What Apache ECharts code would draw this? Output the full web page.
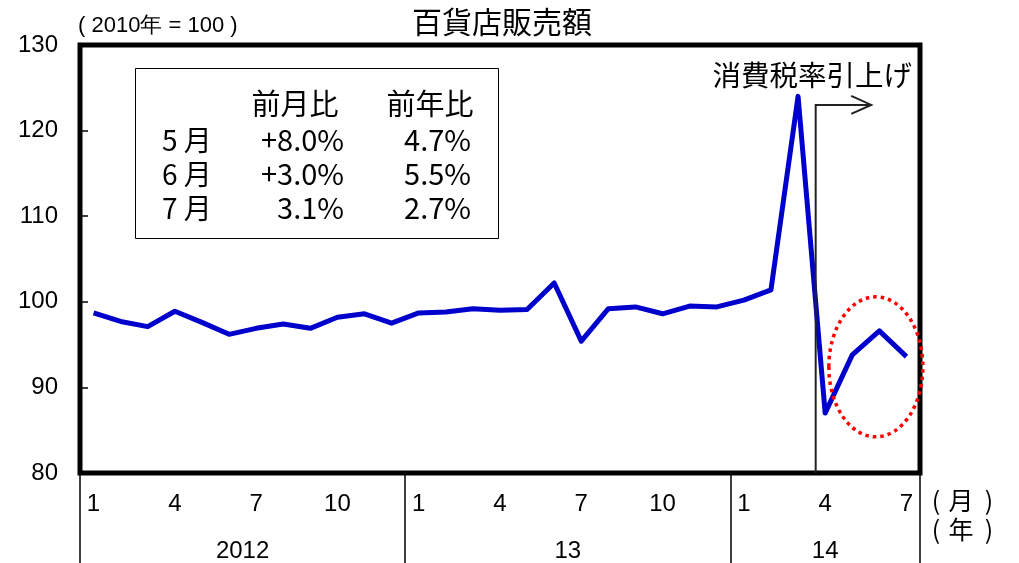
<!DOCTYPE html>
<html>
<head>
<meta charset="utf-8">
<script src="https://cdn.jsdelivr.net/npm/echarts@6/dist/echarts.min.js"></script>
<style>
html, body { margin: 0; padding: 0; background: #fff; }
#main { width: 1019px; height: 563px; }
</style>
</head>
<body>
<div id="main"></div>
<script>
// 2012-1 .. 2014-7
var months = [
    '2012-1', '2012-2', '2012-3', '2012-4', '2012-5', '2012-6', '2012-7', '2012-8', '2012-9', '2012-10', '2012-11', '2012-12',
    '2013-1', '2013-2', '2013-3', '2013-4', '2013-5', '2013-6', '2013-7', '2013-8', '2013-9', '2013-10', '2013-11', '2013-12',
    '2014-1', '2014-2', '2014-3', '2014-4', '2014-5', '2014-6', '2014-7'
];
var sales = [
    98.7, 97.7, 97.1, 98.9, 97.6, 96.2, 96.9, 97.4, 96.9, 98.2, 98.6, 97.5,
    98.7, 98.8, 99.2, 99.0, 99.1, 102.2, 95.4, 99.2, 99.4, 98.6, 99.5, 99.4,
    100.2, 101.4, 124.0, 87.0, 93.8, 96.6, 93.6
];
var monthTicks = ['1', '4', '7', '10'];
var yearLabels = ['2012', '13', '14'];
var yearMid = [6, 18, 27.5];
var yearBounds = [0, 12, 24, 31];

var tableHead = ['前月比', '前年比'];
var tableRows = ['5 月', '6 月', '7 月'];
var momValues = ['+8.0%', '+3.0%', '3.1%'];
var yoyValues = ['4.7%', '5.5%', '2.7%'];

var jp = '"Noto Sans CJK JP", sans-serif';
var num = '"Liberation Sans", Arial, sans-serif';

var chart = echarts.init(document.getElementById('main'));

var option = {
    animation: false,
    backgroundColor: '#fff',
    grid: {
        left: 80, right: 99, top: 45, bottom: 90,
        show: true,
        borderColor: '#000',
        borderWidth: 5
    },
    xAxis: [{
        type: 'category',
        data: months,
        boundaryGap: true,
        axisLine: { show: false },
        axisTick: { show: false },
        axisLabel: {
            interval: function (i, v) {
                return monthTicks.indexOf(v.split('-')[1]) >= 0;
            },
            formatter: function (v) { return v.split('-')[1]; },
            color: '#000',
            fontFamily: num,
            fontSize: 24,
            margin: 19
        }
    }, {
        type: 'value',
        min: 0,
        max: 31,
        position: 'bottom',
        axisLine: { show: false },
        splitLine: { show: false },
        axisTick: {
            show: true,
            customValues: yearBounds,
            length: 90,
            lineStyle: { color: '#000', width: 1.5 }
        },
        axisLabel: {
            customValues: yearMid,
            formatter: function (v) {
                var i = yearMid.indexOf(v);
                return i >= 0 ? yearLabels[i] : '';
            },
            color: '#000',
            fontFamily: num,
            fontSize: 24,
            margin: 66
        }
    }],
    yAxis: {
        type: 'value',
        min: 80,
        max: 130,
        interval: 10,
        axisLine: { show: false },
        splitLine: { show: false },
        axisTick: {
            show: true,
            inside: true,
            length: 8,
            lineStyle: { color: '#000', width: 1.5 }
        },
        axisLabel: {
            color: '#000',
            fontFamily: num,
            fontSize: 24,
            margin: 22
        }
    },
    series: [{
        name: '百貨店販売額',
        type: 'line',
        data: sales,
        showSymbol: false,
        symbol: 'none',
        lineStyle: { color: '#0000CC', width: 5, join: 'round' },
        z: 3
    }]
};

chart.setOption(option);

function px(x) { return chart.convertToPixel({ xAxisIndex: 1 }, x); }
function py(y) { return chart.convertToPixel({ yAxisIndex: 0 }, y); }

function txt(s, x, y, size, align, font) {
    return {
        type: 'text', x: x, y: y, z: 11,
        style: { text: s, fontFamily: font || jp, fontSize: size, fill: '#000', align: align, verticalAlign: 'middle' }
    };
}

var graphics = [];

// title and unit
graphics.push(txt('百貨店販売額', 502, 22, 30, 'center'));
graphics.push(txt('( 2010年 = 100 )', 78, 26, 22, 'left', num));

// axis unit marks
graphics.push(txt('(', 936, 500, 25, 'center'));
graphics.push(txt('月', 961, 500, 25, 'center'));
graphics.push(txt(')', 989, 500, 25, 'center'));
graphics.push(txt('(', 936, 529, 25, 'center'));
graphics.push(txt('年', 961, 529, 25, 'center'));
graphics.push(txt(')', 989, 529, 25, 'center'));

// table box
graphics.push({
    type: 'rect',
    shape: { x: 135.5, y: 68.5, width: 363, height: 170 },
    style: { fill: '#fff', stroke: '#000', lineWidth: 1 },
    z: 10
});
graphics.push(txt(tableHead[0], 295, 104, 29, 'center'));
graphics.push(txt(tableHead[1], 430, 104, 29, 'center'));
for (var r = 0; r < tableRows.length; r++) {
    var ry = 140 + r * 34;
    graphics.push(txt(tableRows[r], 162, ry, 28, 'left'));
    graphics.push(txt(momValues[r], 344, ry, 29, 'right'));
    graphics.push(txt(yoyValues[r], 471, ry, 29, 'right'));
}

// tax rise marker
var taxX = px(27.15);
var taxTop = py(123.0);
var arrowEnd = px(29.2);
graphics.push({
    type: 'polyline',
    shape: { points: [[taxX, py(80)], [taxX, taxTop], [arrowEnd, taxTop]] },
    style: { stroke: '#222', lineWidth: 2, fill: null },
    z: 5
});
graphics.push({
    type: 'polyline',
    shape: { points: [[arrowEnd - 20, taxTop - 9], [arrowEnd, taxTop], [arrowEnd - 20, taxTop + 9]] },
    style: { stroke: '#222', lineWidth: 2, fill: null },
    z: 5
});
graphics.push(txt('消費税率引上げ', 912, 75, 28.5, 'right'));

// dotted ellipse around the last three months
graphics.push({
    type: 'ellipse',
    shape: { cx: px(29.37), cy: py(92.4), rx: 47, ry: 70 },
    style: { fill: null, stroke: '#FF0000', lineWidth: 3.5, lineDash: [3.5, 4] },
    z: 6
});

chart.setOption({ graphic: graphics });
</script>
</body>
</html>
